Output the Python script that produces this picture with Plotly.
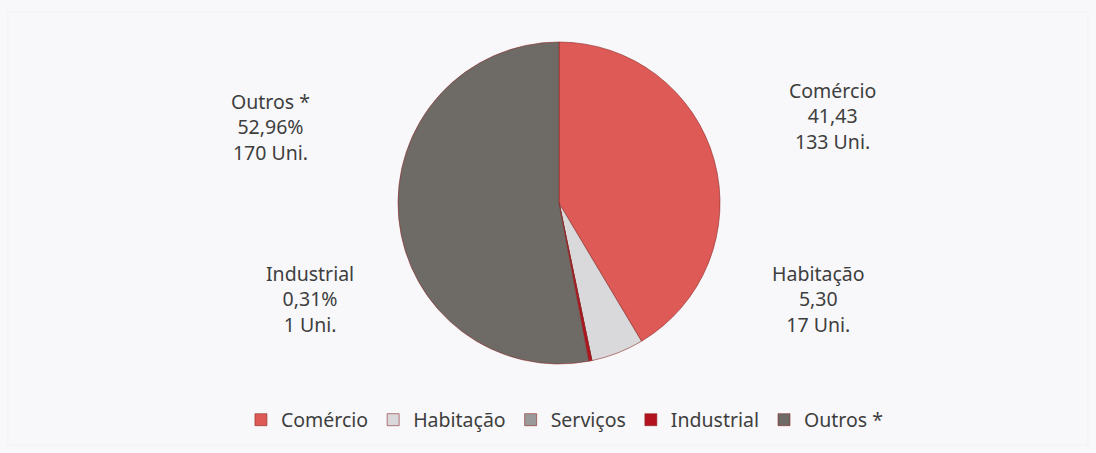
import plotly.graph_objects as go

# Distribution of units by use
categories = ["Comércio", "Habitação", "Serviços", "Industrial", "Outros *"]
units = [133, 17, 0, 1, 170]
percent = [41.43, 5.30, 0.00, 0.31, 52.96]
pct_suffix = ["", "", "", "%", "%"]

colors = ["#DE5A56", "#D9D9DB", "#9A9A9A", "#B3121F", "#6E6B67"]

# label anchor points (paper coords) for categories that carry an outside label
label_pos = {
    "Comércio": (832 / 1096, 1 - 75 / 453),
    "Habitação": (818 / 1096, 1 - 258 / 453),
    "Industrial": (310 / 1096, 1 - 258 / 453),
    "Outros *": (270 / 1096, 1 - 86 / 453),
}

FONT = "Noto Sans"
TEXT_COLOR = "#3E3E3E"
FONT_SIZE = 19.5

fig = go.Figure(
    go.Pie(
        labels=categories,
        values=units,
        sort=False,
        direction="clockwise",
        rotation=0,
        textinfo="none",
        hoverinfo="label+value+percent",
        marker=dict(colors=colors, line=dict(color="#8A2A28", width=0.6)),
        domain=dict(x=[398 / 1096, 720 / 1096], y=[(250 - 161) / 453, (250 + 161) / 453]),
    )
)

annotations = []
for name, pct, suf, n in zip(categories, percent, pct_suffix, units):
    if name not in label_pos:
        continue
    x, y = label_pos[name]
    pct_txt = f"{pct:.2f}".replace(".", ",") + suf
    annotations.append(
        dict(
            x=x, y=y, xref="paper", yref="paper",
            xanchor="center", yanchor="top",
            text=f"{name}<br>{pct_txt}<br>{n} Uni.",
            showarrow=False, align="center",
            font=dict(family=FONT, size=FONT_SIZE, color=TEXT_COLOR),
        )
    )

fig.update_layout(
    width=1096,
    height=453,
    margin=dict(l=0, r=0, t=0, b=0),
    paper_bgcolor="#F8F8FA",
    plot_bgcolor="#F8F8FA",
    annotations=annotations,
    showlegend=True,
    legend=dict(
        orientation="h",
        x=0.515, xanchor="center",
        y=1 - 420 / 453, yanchor="middle",
        font=dict(family=FONT, size=FONT_SIZE, color=TEXT_COLOR),
        bgcolor="rgba(0,0,0,0)",
        itemwidth=30,
        traceorder="normal",
    ),
    shapes=[
        dict(type="rect", xref="paper", yref="paper",
             x0=8 / 1096, x1=1 - 8 / 1096, y0=8 / 453, y1=1 - 12 / 453,
             line=dict(color="#F1F1F4", width=1), fillcolor="rgba(0,0,0,0)", layer="below"),
    ],
)

fig.write_html("out.html")
